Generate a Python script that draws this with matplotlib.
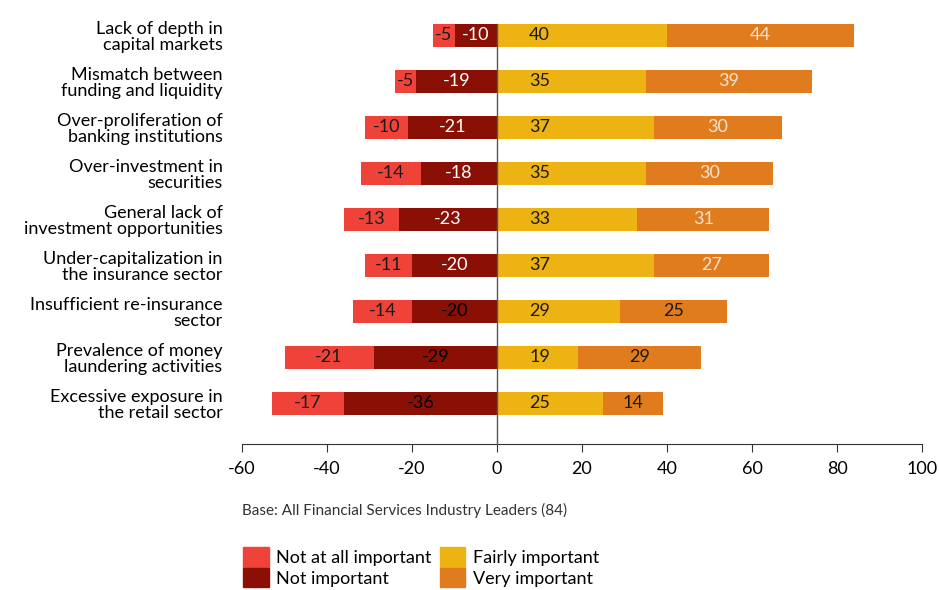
import numpy as np
import matplotlib
matplotlib.use("Agg")
import matplotlib.pyplot as plt
from matplotlib.patches import Patch

plt.rcParams['font.family'] = ['Lato', 'DejaVu Sans']
plt.rcParams['axes.unicode_minus'] = False

categories = [
    "Lack of depth in\ncapital markets",
    "Mismatch between\nfunding and liquidity",
    "Over-proliferation of\nbanking institutions",
    "Over-investment in\nsecurities",
    "General lack of\ninvestment opportunities",
    "Under-capitalization in\nthe insurance sector",
    "Insufficient re-insurance\nsector",
    "Prevalence of money\nlaundering activities",
    "Excessive exposure in\nthe retail sector",
]
not_at_all = [-5, -5, -10, -14, -13, -11, -14, -21, -17]
not_important = [-10, -19, -21, -18, -23, -20, -20, -29, -36]
fairly = [40, 35, 37, 35, 33, 37, 29, 19, 25]
very = [44, 39, 30, 30, 31, 27, 25, 29, 14]

series_names = ["Not at all important", "Not important",
                "Fairly important", "Very important"]
colors = ["#EF433A", "#8A1006", "#EDB312", "#E07C1E"]
# label colour on the dark segments: white up top, black for the last rows
dark_text = ["white"] * 6 + ["black"] * 3

fig = plt.figure(figsize=(9.39, 5.90), dpi=100)
ax = fig.add_axes([242 / 939, 1 - 444 / 590, 680 / 939, (444 - 12) / 590])

y = np.arange(len(categories))
h = 0.5
ni = np.array(not_important)
na = np.array(not_at_all)
fa = np.array(fairly)
vi = np.array(very)

ax.barh(y, ni, height=h, color=colors[1])
ax.barh(y, na, left=ni, height=h, color=colors[0])
ax.barh(y, fa, height=h, color=colors[2])
ax.barh(y, vi, left=fa, height=h, color=colors[3])

fs = 13
lab = dict(ha="center", va="center", fontsize=fs)
for i in range(len(categories)):
    ax.text(ni[i] / 2, y[i], str(ni[i]), color=dark_text[i], **lab)
    ax.text(ni[i] + na[i] / 2, y[i], str(na[i]), color="#1a1a1a", **lab)
    # the "fairly important" numbers sit at a fixed spot near the axis
    ax.text(10, y[i], str(fa[i]), color="#1a1a1a", **lab)
    ax.text(fa[i] + vi[i] / 2, y[i], str(vi[i]),
            color="#1a1a1a" if dark_text[i] == "black" else "#F6E3CF", **lab)

ax.plot([0, 0], [-h / 2, len(categories) - 0.11], color="#555555", lw=1,
        zorder=3, clip_on=False)

ax.set_xlim(-60, 100)
ax.set_ylim(len(categories) - 0.11, -0.5)
ax.set_xticks(np.arange(-60, 101, 20))
ax.tick_params(axis="x", labelsize=fs, length=6, color="#333333", pad=6)
ax.set_yticks(y)
ax.set_yticklabels(categories, fontsize=fs, linespacing=1.0)
ax.tick_params(axis="y", length=0, pad=14)
for s in ["top", "right", "left"]:
    ax.spines[s].set_visible(False)
ax.spines["bottom"].set_color("#333333")

fig.text(242 / 939, 1 - 510 / 590, "Base: All Financial Services Industry Leaders (84)",
         fontsize=11, color="#333333", va="center")

handles = [Patch(color=c) for c in colors]
fig.legend(handles, series_names, loc="upper left",
           bbox_to_anchor=(236 / 939, 1 - 540 / 590), ncol=2, frameon=False,
           fontsize=13, handlelength=1.4, handleheight=1.3, handletextpad=0.4,
           labelspacing=0.05, columnspacing=0.5, borderaxespad=0)

fig.savefig("out.png", dpi=100)
